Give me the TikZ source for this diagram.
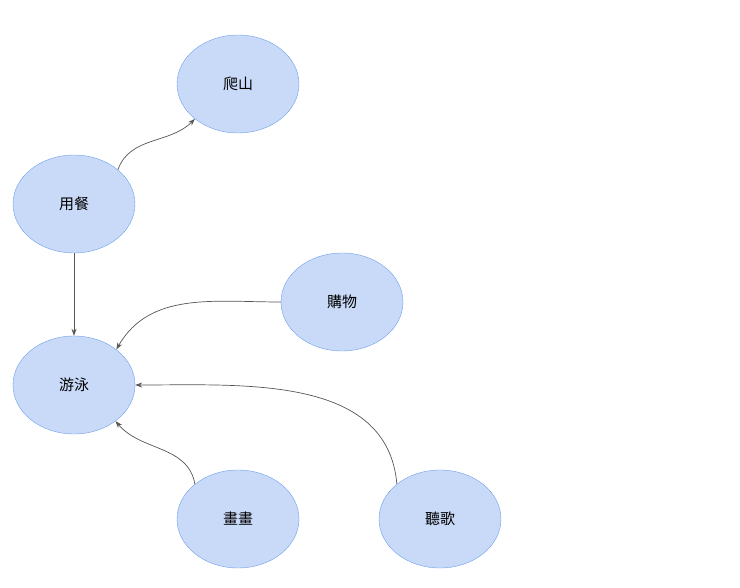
\documentclass[tikz,border=0pt]{standalone}
\usepackage{fontspec}
\newfontfamily\cjk{Noto Sans CJK TC}
\usetikzlibrary{shapes.geometric,arrows.meta}
\begin{document}
\begin{tikzpicture}[x=1pt,y=-1pt,
  nd/.style={ellipse,draw=blue!35!cyan!60!black!60,fill={rgb,255:red,201;green,218;blue,248},draw={rgb,255:red,109;green,158;blue,235},minimum width=122pt,minimum height=98pt,font=\cjk\fontsize{15}{18}\selectfont,inner sep=0},
  ar/.style={draw={rgb,255:red,85;green,85;blue,85},-{Stealth[length=7pt,width=5pt]},line width=0.7pt}]
\useasboundingbox (0,0) rectangle (740,588);
\node[nd] (climb) at (238,84) {爬山};
\node[nd] (eat) at (74,204) {用餐};
\node[nd] (shop) at (342,302) {購物};
\node[nd] (swim) at (74,385) {游泳};
\node[nd] (draw) at (238,519) {畫畫};
\node[nd] (song) at (440,519) {聽歌};
\draw[ar] (eat.38) to[out=70,in=225] (climb.219);
\draw[ar] (eat.south) -- (swim.north);
\draw[ar] (shop.180) to[out=180,in=60] (swim.40);
\draw[ar] (draw.141) to[out=100,in=-50] (swim.-41);
\draw[ar] (song.141) to[out=95,in=0] (swim.0);
\end{tikzpicture}
\end{document}
